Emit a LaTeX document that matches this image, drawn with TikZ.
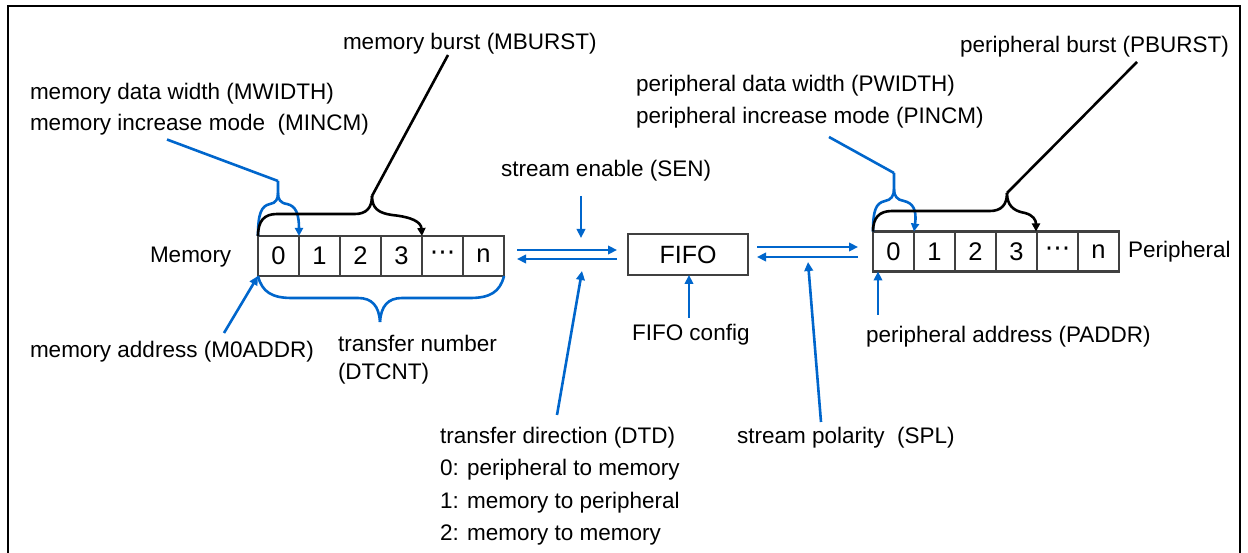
\documentclass[tikz,border=0pt]{standalone}
\usepackage{fontspec}
\setmainfont{Liberation Sans}
\newfontfamily\symfont{DejaVu Sans}
\usetikzlibrary{arrows.meta,calc}
\definecolor{lineblue}{RGB}{0,102,204}
\definecolor{boxgray}{RGB}{64,64,64}

\begin{document}
\begin{tikzpicture}[x=1pt,y=-1pt,
  lbl/.style={inner sep=0pt, outer sep=0pt, anchor=base west, text=black,
              font=\fontsize{22.5}{27}\selectfont},
  cell/.style={draw=boxgray, line width=2.4pt, minimum width=41pt, minimum height=40pt,
               inner sep=0pt, outer sep=0pt, font=\fontsize{25.5}{25.5}\selectfont},
  fifobox/.style={draw=boxgray, line width=2.4pt, minimum width=120pt, minimum height=41pt,
               inner sep=0pt, outer sep=0pt, font=\fontsize{25}{25}\selectfont},
  bline/.style={draw=lineblue, line width=2.6pt},
  kline/.style={draw=black, line width=2.6pt},
  arr/.style={bline, -{Triangle[length=9pt,width=8.5pt]}},
  barr/.style={bline, -{Triangle[length=8pt,width=8pt]}},
  karr/.style={kline, -{Triangle[length=8pt,width=8pt]}},
  frame/.style={draw=black, line width=2.6pt}
]
\useasboundingbox (0,0) rectangle (1248,553);

% outer frame (open at the bottom)
\draw[frame] (8,570) -- (8,6) -- (1240,6) -- (1240,570);

% memory cells
\node[cell] (m0) at (278.5,256) {0};
\node[cell] (m1) at (319.5,256) {1};
\node[cell] (m2) at (360.5,256) {2};
\node[cell] (m3) at (401.5,256) {3};
\node[cell] (m4) at (442.5,256) {\symfont ⋯};
\node[cell] (m5) at (483.5,256) {n};

% peripheral cells
\node[cell] (p0) at (893.5,251.5) {0};
\node[cell] (p1) at (934.5,251.5) {1};
\node[cell] (p2) at (975.5,251.5) {2};
\node[cell] (p3) at (1016.5,251.5) {3};
\node[cell] (p4) at (1057.5,251.5) {\symfont ⋯};
\node[cell] (p5) at (1098.5,251.5) {n};

% FIFO
\node[fifobox] (fifo) at (688,254.5) {FIFO};

% text labels
\node[lbl] (tMem) at (150,263) {Memory};
\node[lbl] (tPer) at (1128,258) {Peripheral};
\node[lbl] (tMburst) at (343,50) {memory burst (MBURST)};
\node[lbl] (tMwidth) at (30,99.5) {memory data width (MWIDTH)};
\node[lbl] (tMincm) at (30,131) {memory increase mode\ \ (MINCM)};
\node[lbl] (tSen) at (501,177) {stream enable (SEN)};
\node[lbl] (tPwidth) at (636,91.5) {peripheral data width (PWIDTH)};
\node[lbl] (tPincm) at (636,123.5) {peripheral increase mode (PINCM)};
\node[lbl] (tPburst) at (960,52.5) {peripheral burst (PBURST)};
\node[lbl] (tMaddr) at (30,358) {memory address (M0ADDR)};
\node[lbl] (tCnt1) at (338,352) {transfer number};
\node[lbl] (tCnt2) at (338,380) {(DTCNT)};
\node[lbl] (tFcfg) at (632,341) {FIFO config};
\node[lbl] (tPaddr) at (866,342) {peripheral address (PADDR)};
\node[lbl] (tDtd0) at (440,443) {transfer direction (DTD)};
\node[lbl] (tDtd1) at (440,475.5) {0: peripheral to memory};
\node[lbl] (tDtd2) at (440,508) {1: memory to peripheral};
\node[lbl] (tDtd3) at (440,540.5) {2: memory to memory};
\node[lbl] (tSpl) at (737,443) {stream polarity\ \ (SPL)};

% memory <-> FIFO
\draw[arr] ($(m5.east)+(13,-6)$) -- ($(fifo.west)+(-11,-4.5)$);
\draw[arr] ($(fifo.west)+(-11,4.5)$) -- ($(m5.east)+(13,3)$);
% FIFO <-> peripheral
\draw[arr] ($(fifo.east)+(9,-7.5)$) -- ($(p0.west)+(-15,-4.5)$);
\draw[arr] ($(p0.west)+(-15,5.5)$) -- ($(fifo.east)+(9,2.5)$);

% control arrows
\coordinate (senA) at (581,196);
\coordinate (senB) at (581,238);
\draw[arr] (senA) -- (senB);
\coordinate (dtdA) at (557,415);
\coordinate (dtdB) at (582,271);
\draw[arr] (dtdA) -- (dtdB);
\coordinate (splA) at (821,422);
\coordinate (splB) at (808,262);
\draw[arr] (splA) -- (splB);
\coordinate (fcA) at (689,318);
\draw[arr] (fcA) -- (fifo.south -| fcA);
\coordinate (paA) at (878,315);
\draw[arr] (paA) -- (p0.south -| paA);
\coordinate (maA) at (224,333);
\draw[arr] (maA) -- (m0.south west);

% memory width / increase brace
\coordinate (mwTip) at (278,181);
\draw[bline] (167,139.5) -- (mwTip);
\draw[bline] (m0.north west) .. controls (258,214) and (261,206) .. (270,204)
  .. controls (276,203) and (278,199) .. (278,193) -- (mwTip);
\draw[barr] (278,193) .. controls (278,199) and (280,203) .. (287,204)
  .. controls (296,206) and (299,214) .. (m0.north east);

% memory burst brace
\coordinate (mbTip) at (372,196);
\draw[kline] (mbTip) -- (448,55);
\draw[kline] (m0.north west) .. controls (258,221) and (264,214) .. (277,214)
  -- (355,214) .. controls (366,214) and (372,208) .. (mbTip);
\draw[karr] (mbTip) .. controls (372,208) and (378,213) .. (392,215)
  .. controls (412,217) and (421,222) .. (m3.north east);

% transfer number brace
\draw[bline] (m0.south west) .. controls (262,292) and (272,298) .. (292,298)
  -- (358,298) .. controls (372,298) and (379,306) .. (380,322);
\draw[bline] (380,322) .. controls (381,306) and (388,298) .. (402,298)
  -- (470,298) .. controls (490,298) and (500,292) .. (m5.south east);

% peripheral width / increase brace
\coordinate (pwTip) at (894,173);
\draw[bline] (829,137) -- (pwTip);
\draw[bline] (p0.north west) .. controls (873,210) and (876,203) .. (885,201)
  .. controls (891,200) and (894,196) .. (894,189) -- (pwTip);
\draw[barr] (894,189) .. controls (894,196) and (897,200) .. (904,201)
  .. controls (913,203) and (917,210) .. (p0.north east);

% peripheral burst brace
\coordinate (pbTip) at (1007,193);
\draw[kline] (pbTip) -- (1137,62);
\draw[kline] (p0.north west) .. controls (873,218) and (879,211) .. (892,211)
  -- (990,211) .. controls (1001,211) and (1007,205) .. (pbTip);
\draw[karr] (pbTip) .. controls (1007,205) and (1013,211) .. (1025,213)
  .. controls (1033,215) and (1036,220) .. (1036,231.5);
\end{tikzpicture}
\end{document}
